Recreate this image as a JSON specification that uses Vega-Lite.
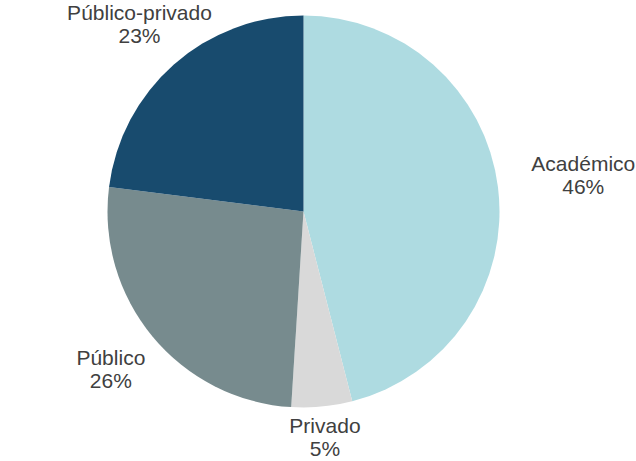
{
  "$schema": "https://vega.github.io/schema/vega-lite/v6.json",
  "width": 607,
  "height": 423,
  "autosize": {"type": "none"},
  "padding": {"left": 0, "top": 0, "right": 29, "bottom": 38},
  "background": "white",
  "view": {"stroke": null},
  "data": {
    "values": [
      {"category": "Académico", "value": 46, "label": "Académico\n46%"},
      {"category": "Privado", "value": 5, "label": "Privado\n5%"},
      {"category": "Público", "value": 26, "label": "Público\n26%"},
      {"category": "Público-privado", "value": 23, "label": "Público-privado\n23%"}
    ]
  },
  "encoding": {
    "theta": {"field": "value", "type": "quantitative", "stack": true}
  },
  "layer": [
    {
      "mark": {"type": "arc", "outerRadius": 196, "stroke": null},
      "encoding": {
        "color": {
          "field": "category",
          "type": "nominal",
          "legend": null,
          "scale": {
            "domain": ["Académico", "Privado", "Público", "Público-privado"],
            "range": ["#AEDBE1", "#D9D9D9", "#778B8E", "#184B6E"]
          }
        }
      }
    },
    {
      "mark": {
        "type": "text",
        "font": "Liberation Sans",
        "fontSize": 21,
        "lineHeight": 23,
        "lineBreak": "\n",
        "align": "center",
        "baseline": "middle",
        "dy": -11.5,
        "fill": "#404040",
        "radius": {"expr": "datum.category === 'Académico' ? 282 : datum.category === 'Privado' ? 228 : datum.category === 'Público' ? 250 : 248"}
      },
      "encoding": {
        "detail": {"field": "category", "type": "nominal"},
        "text": {"field": "label", "type": "nominal"}
      }
    }
  ]
}
